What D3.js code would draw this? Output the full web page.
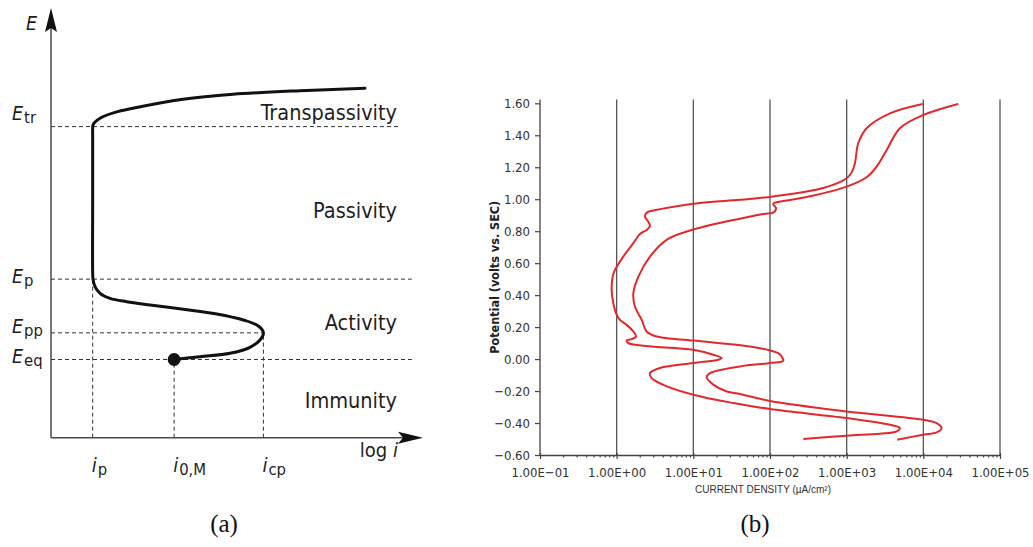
<!DOCTYPE html>
<html>
<head>
<meta charset="utf-8">
<script src="https://cdn.jsdelivr.net/npm/d3@7"></script>
<style>
  html, body { margin: 0; padding: 0; background: #fff; }
  svg { display: block; }
</style>
</head>
<body>
<svg id="fig" width="1033" height="547"></svg>
<script>
// ---------- Panel (a): schematic anodic polarization curve ----------
// All (a) quantities are in schematic units (0-100 along each axis).
const regionNames  = ["Transpassivity", "Passivity", "Activity", "Immunity"];
const regionLevels = [73.9, 51.1, 25.1, 6.9];

const potentialNames  = ["tr", "p", "pp", "eq"];
const potentialLevels = [72.4, 36.9, 24.4, 18.2];

const currentNames  = ["p", "0,M", "cp"];
const currentLevels = [11.2, 33.1, 57.1];

// log i and E along the schematic curve, from E_eq upwards
const schematicLogI = [33.1, 40.05, 48.12, 53.49, 56.18, 57.1, 55.73, 51.69, 44.54, 35.56,
                       26.61, 20.35, 15.86, 13.17, 11.83, 11.3, 11.2, 11.2, 11.2, 11.2,
                       11.35, 13.17, 17.2, 22.04, 35.48, 48.92, 66.94, 84.41];
const schematicE    = [18.2, 18.85, 19.64, 21.04, 22.74, 24.4, 26.0, 27.39, 28.79, 29.88,
                       30.88, 31.65, 32.44, 33.6, 35.14, 36.9, 38.5, 54.6, 70.5, 71.9,
                       72.9, 74.33, 75.7, 76.66, 78.75, 79.92, 80.75, 81.31];

// ---------- Panel (b): measured potentiodynamic scans ----------
const potentialTicks = [-0.6, -0.4, -0.2, 0.0, 0.2, 0.4, 0.6, 0.8, 1.0, 1.2, 1.4, 1.6];
const currentTicks   = [1e-1, 1e0, 1e1, 1e2, 1e3, 1e4, 1e5];

// current density in µA/cm², potential in V vs. SCE
const scanACurrent = [272, 1000, 2720, 4490, 4950, 3670, 1000, 100, 33.2, 10.0,
                      4.06, 2.86, 2.72, 3.67, 10.0, 21.1, 23.4, 18.2, 10.0, 2.22,
                      1.42, 1.35, 1.57, 1.79, 1.65, 1.35, 1.10, 1.00, 0.904, 0.861,
                      0.887, 0.951, 1.22, 1.65, 2.01, 2.46, 2.72, 2.58, 2.34, 2.46,
                      3.0, 12.2, 40.6, 110, 495, 1000, 1172, 1282, 1416, 1820,
                      3670, 9800];
const scanAPotential = [-0.500, -0.479, -0.467, -0.4525, -0.431, -0.411, -0.369, -0.3125, -0.275, -0.223,
                        -0.161, -0.119, -0.0875, -0.056, -0.025, -0.004, 0.006, 0.027, 0.058, 0.083,
                        0.100, 0.116, 0.125, 0.141, 0.1725, 0.214, 0.246, 0.277, 0.350, 0.433,
                        0.516, 0.558, 0.641, 0.725, 0.783, 0.808, 0.833, 0.860, 0.891, 0.916,
                        0.929, 0.977, 0.996, 1.0175, 1.070, 1.131, 1.171, 1.225, 1.350, 1.444,
                        1.5375, 1.596];

const scanBCurrent = [4570, 10000, 14900, 17300, 14900, 10000, 1000, 100, 40.6, 27.2,
                      18.2, 14.9, 16.5, 40.6, 100, 149, 142, 128, 100, 54.8,
                      10.0, 3.33, 2.46, 2.12, 1.73, 1.65, 1.92, 2.72, 4.49, 9.04,
                      81.7, 110, 120, 110, 157, 301, 1000, 1820, 2460, 3330,
                      4950, 10000, 28500];
const scanBPotential = [-0.504, -0.473, -0.459, -0.431, -0.400, -0.379, -0.3275, -0.262, -0.218, -0.2025,
                        -0.160, -0.1125, -0.0875, -0.046, -0.025, -0.011, 0.016, 0.0375, 0.054, 0.079,
                        0.116, 0.141, 0.1725, 0.246, 0.329, 0.4125, 0.516, 0.641, 0.746, 0.804,
                        0.908, 0.916, 0.944, 0.971, 0.990, 1.014, 1.079, 1.1375, 1.204, 1.308,
                        1.444, 1.527, 1.596];

const svg = d3.select("#fig");
const SANS = "'DejaVu Sans Condensed', 'DejaVu Sans', sans-serif";
const INK = "#1e1e1e";

// ================= Panel (a) =================
const gA = svg.append("g");
const xA = d3.scaleLinear().domain([0, 100]).range([51, 423]);
const yA = d3.scaleLinear().domain([0, 100]).range([437.7, 8]);
const axisColor = "#4a4a4a";

// axes with arrowheads
gA.append("line").attr("x1", xA(0)).attr("x2", xA(100) - 20)
  .attr("y1", yA(0)).attr("y2", yA(0)).attr("stroke", axisColor).attr("stroke-width", 1.5);
gA.append("line").attr("x1", xA(0)).attr("x2", xA(0))
  .attr("y1", yA(0)).attr("y2", yA(100) + 20).attr("stroke", axisColor).attr("stroke-width", 1.5);
gA.append("path")
  .attr("d", `M${xA(100)},${yA(0)} L${xA(100) - 25},${yA(0) - 6} L${xA(100) - 20},${yA(0)} L${xA(100) - 25},${yA(0) + 6} Z`)
  .attr("fill", "#111");
gA.append("path")
  .attr("d", `M${xA(0)},${yA(100)} L${xA(0) - 6},${yA(100) + 24} L${xA(0)},${yA(100) + 20} L${xA(0) + 6},${yA(100) + 24} Z`)
  .attr("fill", "#111");

// dashed guide lines
const dash = { stroke: "#333", "stroke-width": 1, "stroke-dasharray": "4,3" };
const hGuides = [
  { level: potentialLevels[0], to: 93.3 },
  { level: potentialLevels[1], to: 97.0 },
  { level: potentialLevels[2], to: currentLevels[2] },
  { level: potentialLevels[3], to: 97.0 }
];
hGuides.forEach(g => {
  const l = gA.append("line").attr("x1", xA(0)).attr("x2", xA(g.to))
    .attr("y1", yA(g.level)).attr("y2", yA(g.level));
  Object.entries(dash).forEach(([k, v]) => l.attr(k, v));
});
const vGuides = [
  { at: currentLevels[0], top: potentialLevels[1] },
  { at: currentLevels[1], top: potentialLevels[3] },
  { at: currentLevels[2], top: potentialLevels[2] }
];
vGuides.forEach(g => {
  const l = gA.append("line").attr("x1", xA(g.at)).attr("x2", xA(g.at))
    .attr("y1", yA(0)).attr("y2", yA(g.top));
  Object.entries(dash).forEach(([k, v]) => l.attr(k, v));
});

// the curve
const schematicPts = schematicLogI.map((v, i) => [v, schematicE[i]]);
gA.append("path")
  .datum(schematicPts)
  .attr("d", d3.line().x(d => xA(d[0])).y(d => yA(d[1])).curve(d3.curveCatmullRom.alpha(0.5)))
  .attr("fill", "none").attr("stroke", "#111").attr("stroke-width", 3)
  .attr("stroke-linejoin", "round").attr("stroke-linecap", "round");
gA.append("circle")
  .attr("cx", xA(schematicPts[0][0])).attr("cy", yA(schematicPts[0][1]))
  .attr("r", 6.5).attr("fill", "#111");

// region names
regionNames.forEach((name, i) => {
  gA.append("text").attr("x", 397).attr("y", yA(regionLevels[i]))
    .attr("text-anchor", "end").attr("font-family", SANS).attr("font-size", 21.5)
    .attr("fill", INK).text(name);
});

// potential labels E_x
const eLabelShift = [-6.7, 4.3, 0.6, 4];
potentialNames.forEach((name, i) => {
  const t = gA.append("text").attr("x", 12).attr("y", yA(potentialLevels[i]) + eLabelShift[i])
    .attr("font-family", SANS).attr("fill", INK);
  t.append("tspan").attr("font-size", 19.5).attr("font-style", "italic").text("E");
  t.append("tspan").attr("font-size", 16.5).attr("dy", 3).attr("dx", 1).text(name);
});

// axis names
gA.append("text").attr("x", 26).attr("y", 30).attr("font-family", SANS)
  .attr("font-size", 19.5).attr("font-style", "italic").attr("fill", INK).text("E");
const logLabel = gA.append("text").attr("x", 398).attr("y", 457).attr("text-anchor", "end")
  .attr("font-family", SANS).attr("font-size", 20).attr("fill", INK);
logLabel.append("tspan").text("log ");
logLabel.append("tspan").attr("font-style", "italic").text("i");

// current labels i_x
currentNames.forEach((name, i) => {
  const t = gA.append("text").attr("x", xA(currentLevels[i]) - 1).attr("y", 472)
    .attr("font-family", SANS).attr("fill", INK);
  t.append("tspan").attr("font-size", 20).attr("font-style", "italic").text("i");
  t.append("tspan").attr("font-size", 16.5).attr("dy", 3).attr("dx", 1).text(name);
});

// ================= Panel (b) =================
const gB = svg.append("g");
const xB = d3.scaleLog().domain([1e-1, 1e5]).range([540, 1000]);
const yB = d3.scaleLinear().domain([-0.6, 1.6]).range([455, 103.3]);
const plotTop = 99.5;

// vertical decade grid lines
gB.append("g").selectAll("line").data(currentTicks.slice(1)).join("line")
  .attr("x1", d => xB(d)).attr("x2", d => xB(d))
  .attr("y1", plotTop).attr("y2", yB(-0.6))
  .attr("stroke", "#555").attr("stroke-width", 1.3);

// y axis
const yAxis = gB.append("g").attr("transform", `translate(${xB(1e-1)},0)`)
  .call(d3.axisLeft(yB).tickValues(potentialTicks).tickFormat(d3.format(".2f"))
    .tickSize(5).tickPadding(5).tickSizeOuter(0));
yAxis.select(".domain").remove();
gB.append("line").attr("x1", xB(1e-1)).attr("x2", xB(1e-1))
  .attr("y1", plotTop).attr("y2", yB(-0.6)).attr("stroke", "#444").attr("stroke-width", 1.3);

// x axis: decade labels, major and minor ticks
const fmtSci = d => {
  const e = Math.round(Math.log10(d));
  const sign = e < 0 ? "\u2212" : "+";
  return "1.00E" + sign + String(Math.abs(e)).padStart(2, "0");
};
const xAxis = gB.append("g").attr("transform", `translate(0,${yB(-0.6)})`)
  .call(d3.axisBottom(xB).tickValues(currentTicks).tickFormat(fmtSci)
    .tickSize(4).tickPadding(9).tickSizeOuter(0));
xAxis.select(".domain").attr("stroke", "#444").attr("stroke-width", 1.3);
gB.append("g").attr("transform", `translate(0,${yB(-0.6)})`)
  .call(d3.axisTop(xB).tickValues(currentTicks).tickFormat("").tickSize(2).tickSizeOuter(0))
  .select(".domain").remove();
const minorTicks = [];
currentTicks.slice(0, -1).forEach(d => { for (let k = 2; k <= 9; k++) minorTicks.push(d * k); });
gB.append("g").attr("transform", `translate(0,${yB(-0.6)})`)
  .call(d3.axisBottom(xB).tickValues(minorTicks).tickFormat("").tickSize(2.5).tickSizeOuter(0))
  .select(".domain").remove();

[yAxis, xAxis].forEach(a => {
  a.selectAll("text").attr("font-family", SANS).attr("font-size", 13).attr("fill", "#333");
});
gB.selectAll(".tick line").attr("stroke", "#444").attr("stroke-width", 1.2);

// axis titles
gB.append("text")
  .attr("transform", `translate(498.5,${(plotTop + yB(-0.6)) / 2}) rotate(-90)`)
  .attr("text-anchor", "middle").attr("font-family", SANS).attr("font-weight", "bold")
  .attr("font-size", 12.5).attr("fill", "#222").text("Potential (volts vs. SEC)");
gB.append("text").attr("x", 763).attr("y", 493).attr("text-anchor", "middle")
  .attr("font-family", "'Liberation Sans', Arial, sans-serif").attr("font-size", 10)
  .attr("fill", "#333").text("CURRENT DENSITY (\u00b5A/cm\u00b2)");

// the two scans
const scanLine = d3.line().x(d => xB(d[0])).y(d => yB(d[1])).curve(d3.curveCatmullRom.alpha(0.5));
[[scanACurrent, scanAPotential], [scanBCurrent, scanBPotential]].forEach(([c, p]) => {
  gB.append("path").datum(c.map((v, i) => [v, p[i]]))
    .attr("d", scanLine).attr("fill", "none")
    .attr("stroke", "#e3282b").attr("stroke-width", 2).attr("stroke-linejoin", "round");
});

// ================= panel captions =================
svg.append("text").attr("x", 224).attr("y", 532).attr("text-anchor", "middle")
  .attr("font-family", "'Liberation Serif', 'Times New Roman', serif").attr("font-size", 25)
  .attr("fill", "#111").text("(a)");
svg.append("text").attr("x", 755).attr("y", 532).attr("text-anchor", "middle")
  .attr("font-family", "'Liberation Serif', 'Times New Roman', serif").attr("font-size", 25)
  .attr("fill", "#111").text("(b)");
</script>
</body>
</html>
